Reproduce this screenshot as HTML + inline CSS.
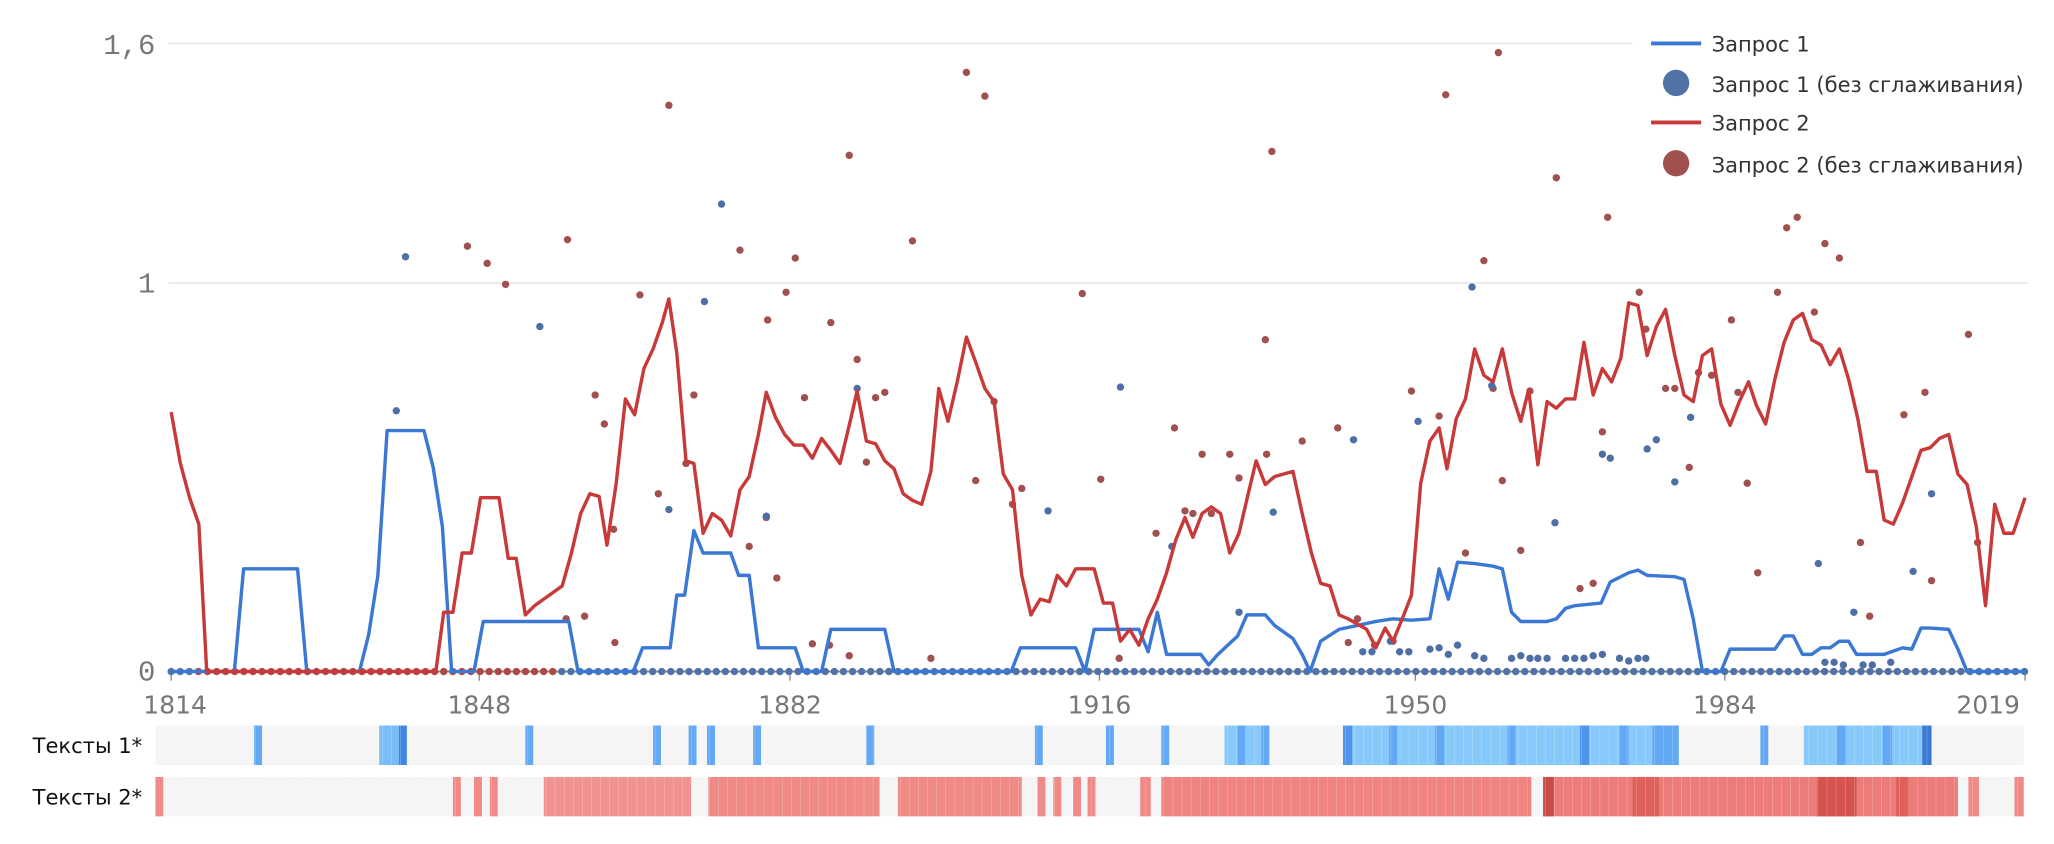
<!DOCTYPE html>
<html><head><meta charset="utf-8"><style>
html,body{margin:0;padding:0;background:#fff;}
svg{display:block}
</style></head><body>
<svg id="s" width="2054" height="844" viewBox="0 0 1560 641" preserveAspectRatio="none" xmlns="http://www.w3.org/2000/svg">
<g font-family="Liberation Mono, DejaVu Sans Mono, monospace" fill="#777" font-size="22">
<text x="118" y="41" text-anchor="end">1,6</text>
<text x="118" y="222" text-anchor="end">1</text>
<text x="118" y="517" text-anchor="end">0</text>
</g>
<line x1="128" y1="33" x2="1240" y2="33" stroke="#e3e3e8" stroke-width="1"/>
<line x1="128" y1="215" x2="1540" y2="215" stroke="#e3e3e8" stroke-width="1"/>
<line x1="128" y1="510" x2="1540" y2="510" stroke="#888" stroke-width="1.5"/>
<g font-family="DejaVu Sans, Liberation Sans, sans-serif" fill="#777" font-size="19">
<text x="133" y="542" text-anchor="middle">1814</text>
<text x="364" y="542" text-anchor="middle">1848</text>
<text x="600" y="542" text-anchor="middle">1882</text>
<text x="835" y="542" text-anchor="middle">1916</text>
<text x="1075" y="542" text-anchor="middle">1950</text>
<text x="1310" y="542" text-anchor="middle">1984</text>
<text x="1510" y="542" text-anchor="middle">2019</text>
</g>
<g stroke="#888" stroke-width="1"><line x1="130" y1="510" x2="130" y2="517"/><line x1="364" y1="510" x2="364" y2="517"/><line x1="600" y1="510" x2="600" y2="517"/><line x1="835" y1="510" x2="835" y2="517"/><line x1="1075" y1="510" x2="1075" y2="517"/><line x1="1310" y1="510" x2="1310" y2="517"/><line x1="1538" y1="510" x2="1538" y2="517"/></g>
<g id="dots"></g>
<polyline id="bl" fill="none" stroke="#3a78d4" stroke-width="2.6" stroke-linejoin="round"/>
<polyline id="rl" fill="none" stroke="#c8393a" stroke-width="2.6" stroke-linejoin="round"/>
<g id="heat"></g>
<g font-family="DejaVu Sans, Liberation Sans, sans-serif" fill="#111" font-size="16">
<text x="108" y="572" text-anchor="end">Тексты 1*</text>
<text x="108" y="611" text-anchor="end">Тексты 2*</text>
</g>
<g font-family="DejaVu Sans, Liberation Sans, sans-serif" fill="#333" font-size="16">
<line x1="1254" y1="33" x2="1292" y2="33" stroke="#3a78d4" stroke-width="3"/>
<text x="1300" y="39">Запрос 1</text>
<circle cx="1273" cy="63" r="10" fill="#5172a6"/>
<text x="1300" y="70">Запрос 1 (без сглаживания)</text>
<line x1="1254" y1="93" x2="1292" y2="93" stroke="#c8393a" stroke-width="3"/>
<text x="1300" y="99">Запрос 2</text>
<circle cx="1273" cy="124" r="10" fill="#a0504f"/>
<text x="1300" y="131">Запрос 2 (без сглаживания)</text>
</g>
</svg>
<script>
var NS="http://www.w3.org/2000/svg";
function el(p,t,a){var e=document.createElementNS(NS,t);for(var k in a)e.setAttribute(k,a[k]);p.appendChild(e);return e;}
var red=[130,313,137,352,144,378,151,398,157,510,331,510,337,465,344,465,351,420,358,420,365,378,379,378,386,424,392,424,399,467,406,460,413,455,420,450,427,445,434,420,441,390,448,375,455,377,461,414,468,367,475,303,482,315,489,280,496,265,503,245,508,227,514,268,521,350,527,352,534,405,541,390,548,395,555,407,562,372,569,362,576,330,582,298,589,317,596,330,603,338,610,338,617,348,624,333,631,342,638,352,645,323,651,297,658,335,665,337,672,350,679,356,686,375,693,380,700,383,707,358,713,295,720,320,727,290,734,256,741,275,748,295,755,305,762,360,769,372,776,437,783,467,790,455,797,457,803,437,810,445,817,432,831,432,838,458,845,458,851,487,858,478,865,490,872,470,879,455,886,435,893,410,900,393,906,408,913,390,920,385,927,390,934,420,941,405,948,375,954,350,961,368,968,362,975,360,982,358,989,390,996,420,1003,443,1010,445,1017,467,1024,470,1031,474,1038,478,1045,492,1052,477,1058,487,1065,470,1072,452,1079,367,1086,335,1093,325,1099,356,1106,318,1113,303,1120,265,1127,285,1134,290,1141,265,1148,298,1155,320,1161,296,1168,353,1175,305,1182,310,1189,303,1196,303,1203,260,1210,300,1217,280,1224,290,1231,272,1237,230,1244,232,1251,270,1258,248,1265,235,1272,270,1279,300,1286,305,1293,270,1300,265,1307,307,1314,323,1321,305,1328,290,1334,308,1341,322,1348,288,1355,260,1362,243,1369,238,1376,258,1383,262,1390,277,1397,265,1404,288,1411,318,1418,358,1425,358,1431,395,1438,398,1445,382,1452,362,1459,342,1466,340,1473,333,1480,330,1487,360,1494,368,1501,400,1508,460,1515,383,1522,405,1529,405,1538,378];
var blue=[130,510,178,510,185,432,226,432,233,510,273,510,280,482,287,437,294,327,322,327,329,355,336,400,343,510,360,510,367,472,432,472,439,510,481,510,488,492,509,492,514,452,520,452,527,403,534,420,555,420,561,437,569,437,576,492,604,492,610,510,624,510,631,478,672,478,679,510,768,510,775,492,817,492,824,510,831,478,865,478,872,495,879,465,886,497,912,497,918,505,925,497,940,483,947,467,961,467,968,475,982,485,989,497,995,510,1003,487,1017,478,1031,475,1045,472,1058,470,1072,471,1086,470,1093,432,1100,455,1107,427,1120,428,1134,430,1141,432,1148,465,1155,472,1175,472,1182,470,1189,462,1196,460,1216,458,1223,442,1237,435,1244,433,1251,437,1272,438,1279,440,1286,470,1293,510,1307,510,1314,493,1348,493,1355,483,1362,483,1369,497,1376,497,1383,492,1390,492,1397,487,1404,487,1410,497,1431,497,1445,492,1452,493,1459,477,1466,477,1480,478,1487,493,1494,510,1538,510];
function pts(a){var s=[];for(var i=0;i<a.length;i+=2)s.push(a[i]+","+a[i+1]);return s.join(" ");}
document.getElementById("rl").setAttribute("points",pts(red));
document.getElementById("bl").setAttribute("points",pts(blue));
var d=document.getElementById("dots");
for(var x=130;x<=1539;x+=6.9){var c=(x>330&&x<420)||x<330&&x>150?"#b04646":"#5172a6";el(d,"circle",{cx:x,cy:510,r:2.8,fill:c});}
var rd=[355,187,370,200,384,216,431,182,452,300,459,322,466,402,486,224,500,375,508,80,527,300,521,352,562,190,569,415,583,243,582,393,590,439,597,222,604,196,611,302,617,489,631,245,645,118,651,273,658,351,665,302,672,298,693,183,707,500,734,55,748,73,741,365,755,305,769,383,776,371,822,223,836,364,850,500,878,405,892,325,900,388,906,390,913,345,920,390,934,345,941,363,966,115,961,258,962,345,989,335,1016,325,1024,488,1031,470,1044,490,1072,297,1093,316,1098,72,1113,420,1127,198,1134,295,1141,365,1138,40,1155,418,1162,297,1182,135,1200,447,1210,443,1217,328,1221,165,1245,222,1250,250,1265,295,1272,295,1283,355,1290,283,1300,285,1315,243,1320,298,1327,367,1335,435,1350,222,1357,173,1365,165,1378,237,1386,185,1397,196,1413,412,1420,468,1446,315,1462,298,1467,441,1495,254,1502,412,444,468,467,488,430,470,630,490,645,498,1058,487];
var bd=[308,195,301,312,410,248,508,387,535,229,548,155,582,392,651,295,796,388,851,294,890,415,941,465,967,389,1028,334,1077,320,1118,218,1133,293,1181,397,1217,345,1223,348,1251,341,1258,334,1272,366,1284,317,1381,428,1408,465,1453,434,1467,375,1056,487,1035,495,1042,495,1063,495,1070,495,1086,493,1093,492,1100,497,1107,490,1120,498,1127,500,1148,500,1155,498,1162,500,1168,500,1175,500,1189,500,1196,500,1203,500,1210,498,1217,497,1230,500,1237,502,1244,500,1250,500,1386,503,1393,503,1400,505,1415,505,1422,505,1436,503];
for(var i=0;i<rd.length;i+=2)el(d,"circle",{cx:rd[i],cy:rd[i+1],r:2.8,fill:"#a0504f"});
for(var i=0;i<bd.length;i+=2)el(d,"circle",{cx:bd[i],cy:bd[i+1],r:2.8,fill:"#4e6fa6"});
var h=document.getElementById("heat");
el(h,"rect",{x:118,y:551,width:1419,height:30,fill:"#f5f5f5"});
el(h,"rect",{x:118,y:590,width:1419,height:30,fill:"#f5f5f5"});
var b1=[[193,199,"#62a8f5"],[288,303,"#7abcf8"],[303,309,"#3f86e0"],[399,405,"#62a8f5"],[496,502,"#62a8f5"],[523,529,"#62a8f5"],[537,543,"#62a8f5"],[572,578,"#62a8f5"],[658,664,"#62a8f5"],[786,792,"#62a8f5"],[840,846,"#62a8f5"],[882,888,"#62a8f5"],[930,964,"#86c9fa"],[940,946,"#62a8f5"],[958,964,"#62a8f5"],[1020,1275,"#86c9fa"],[1020,1027,"#4f95ea"],[1055,1061,"#62a8f5"],[1090,1097,"#62a8f5"],[1145,1151,"#62a8f5"],[1200,1207,"#4f95ea"],[1230,1237,"#62a8f5"],[1255,1275,"#62a8f5"],[1337,1343,"#62a8f5"],[1370,1465,"#86c9fa"],[1395,1402,"#62a8f5"],[1430,1437,"#62a8f5"],[1460,1467,"#3a78d4"]];
b1.forEach(function(r){el(h,"rect",{x:r[0],y:551,width:r[1]-r[0],height:30,fill:r[2]});});
var b2=[[118,124,"#ef8a87"],[344,350,"#ef8a87"],[360,366,"#ef8a87"],[372,378,"#ef8a87"],[413,525,"#f09290"],[538,668,"#ef8a87"],[682,776,"#ef8a87"],[788,794,"#ef8a87"],[800,806,"#ef8a87"],[815,821,"#ef8a87"],[826,832,"#ef8a87"],[866,874,"#ef8a87"],[882,1163,"#ee8380"],[1172,1487,"#ec7c79"],[1172,1180,"#c94a47"],[1240,1260,"#e0605c"],[1380,1410,"#d5524f"],[1440,1450,"#e0605c"],[1495,1503,"#ef8a87"],[1530,1537,"#ef8a87"]];
b2.forEach(function(r){el(h,"rect",{x:r[0],y:590,width:r[1]-r[0],height:30,fill:r[2]});});
for(var x=118;x<1537;x+=6.9){el(h,"line",{x1:x,y1:551,x2:x,y2:620,stroke:"#fff","stroke-width":0.3,"stroke-opacity":0.5});}
el(h,"rect",{x:118,y:581,width:1419,height:9,fill:"#fff"});
</script>
</body></html>
